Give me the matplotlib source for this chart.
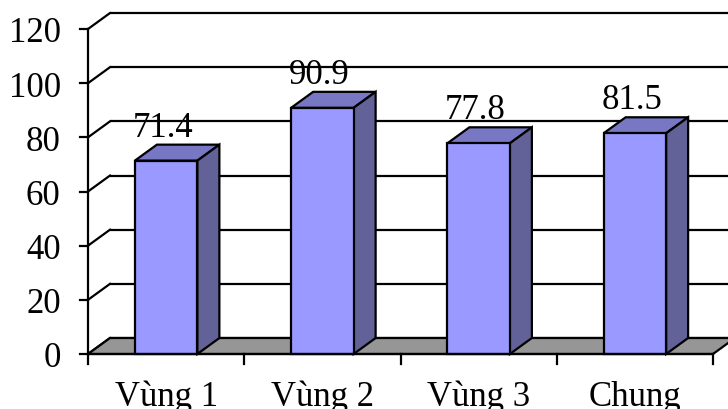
import matplotlib
matplotlib.use("Agg")
import matplotlib.pyplot as plt
from matplotlib.patches import Polygon

categories = ["Vùng 1", "Vùng 2", "Vùng 3", "Chung"]
values = [71.4, 90.9, 77.8, 81.5]
yticks = [0, 20, 40, 60, 80, 100, 120]

plt.rcParams['font.family'] = ['Liberation Serif', 'DejaVu Serif']
FS = 25

fig = plt.figure(figsize=(7.28, 4.10), dpi=100)
ax = fig.add_axes([0, 0, 1, 1])
# pixel layout: category width 156.25 px, 20 units = 54.17 px
ax.set_xlim(-0.5632, 4.096)
ax.set_ylim(-20.31, 131.08)
ax.axis("off")

dx, dy = 0.1408, 5.9   # depth offset of the 3d box
n = len(categories)
lw = 1.6

# back wall gridlines and left wall diagonals
for v in yticks:
    ax.plot([dx, n + dx], [v + dy, v + dy], color="black", lw=lw, zorder=1, solid_capstyle="butt")
    ax.plot([0, dx], [v, v + dy], color="black", lw=lw, zorder=1)

# floor
ax.add_patch(Polygon([(0, 0), (n, 0), (n + dx, dy), (dx, dy)], closed=True,
                     facecolor="#969696", edgecolor="black", lw=lw, zorder=2))

# bars: front face via ax.bar, top and side faces as polygons
w = 0.4
xs = [i + 0.5 for i in range(n)]
ax.bar(xs, values, width=w, color="#9999FF", edgecolor="black", linewidth=lw, zorder=4)
for x, v in zip(xs, values):
    x0, x1 = x - w / 2, x + w / 2
    ax.add_patch(Polygon([(x0, v), (x1, v), (x1 + dx, v + dy), (x0 + dx, v + dy)], closed=True,
                         facecolor="#7777C4", edgecolor="black", lw=lw, zorder=3))
    ax.add_patch(Polygon([(x1, 0), (x1 + dx, dy), (x1 + dx, v + dy), (x1, v)], closed=True,
                         facecolor="#626299", edgecolor="black", lw=lw, zorder=3))
    ax.text(x - 0.02, v + dy + 3.3, f"{v:.1f}", ha="center", va="baseline", fontsize=FS, zorder=5)

# value axis
ax.plot([0, 0], [0, 120], color="black", lw=lw, zorder=5)
for v in yticks:
    ax.plot([-0.051, 0], [v, v], color="black", lw=lw, zorder=5)
    ax.text(-0.175, v - 4.6, str(v), ha="right", va="baseline", fontsize=FS)

# category axis
ax.plot([0, n], [0, 0], color="black", lw=lw, zorder=5)
for i in range(n + 1):
    ax.plot([i, i], [0, -3.7], color="black", lw=lw, zorder=5)
for x, c in zip(xs, categories):
    ax.text(x, -18.8, c, ha="center", va="baseline", fontsize=FS)

fig.savefig("out.png", dpi=100)
